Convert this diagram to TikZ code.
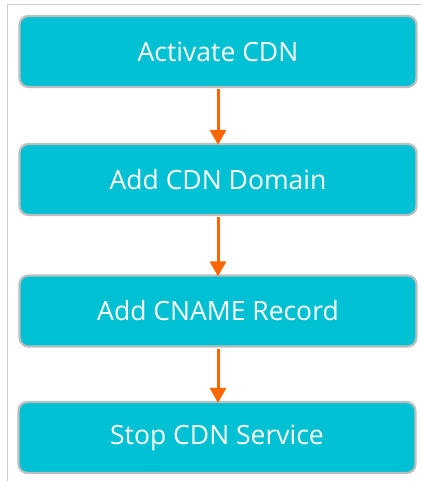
\documentclass[tikz,border=0pt]{standalone}
\usepackage{fontspec}
\setmainfont{Open Sans}
\usetikzlibrary{arrows.meta}
\definecolor{boxfill}{RGB}{0,193,212}
\definecolor{boxline}{RGB}{190,190,190}
\definecolor{arrowc}{RGB}{255,102,0}
\definecolor{framec}{RGB}{205,205,205}
\begin{document}
\begin{tikzpicture}[x=1pt,y=-1pt,
  stepbox/.style={draw=boxline,line width=2.2pt,fill=boxfill,rounded corners=9pt,
    minimum width=397pt,minimum height=71pt,inner sep=0pt,text=white,
    font=\fontsize{26.5}{30}\selectfont},
  flow/.style={draw=arrowc,line width=3pt,-{Triangle[length=15pt,width=16pt]}}]
\useasboundingbox (0,0) rectangle (421,481);
\draw[framec,line width=1pt] (7.5,481) -- (7.5,4.5) -- (421,4.5);
\node[stepbox] (a) at (218,51.5) {Activate CDN};
\node[stepbox] (b) at (218,179.5) {Add CDN Domain};
\node[stepbox] (c) at (218,311) {Add CNAME Record};
\node[stepbox] (d) at (217,437.5) {Stop CDN Service};
\draw[flow] ([yshift=-1pt]a.south) -- ([yshift=-2pt]b.north);
\draw[flow] ([yshift=-1pt]b.south) -- ([yshift=-2pt]c.north);
\draw[flow] ([yshift=-1pt]c.south) -- ([yshift=-2pt]c.south |- d.north);
\end{tikzpicture}
\end{document}
